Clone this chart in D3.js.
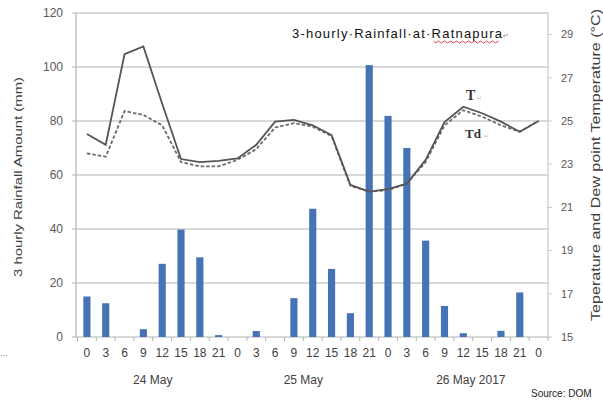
<!DOCTYPE html>
<html><head><meta charset="utf-8">
<script src="https://cdn.jsdelivr.net/npm/d3@7"></script>
<style>
html,body{margin:0;padding:0;background:#fff;overflow:hidden;}
svg{display:block;font-family:"Liberation Sans",Arial,sans-serif;}
</style></head>
<body>
<svg id="c" width="603" height="402"></svg>
<script>
const hours = ["0","3","6","9","12","15","18","21","0","3","6","9","12","15","18","21","0","3","6","9","12","15","18","21","0"];
const rainfall = [15,12.5,0,2.9,27.1,39.8,29.5,0.7,0,2.2,0,14.4,47.5,25.2,8.8,100.7,81.9,70,35.7,11.5,1.4,0,2.3,16.5,0];
const temperature = [24.4,23.9,28.1,28.45,25.8,23.24,23.1,23.15,23.27,23.9,24.97,25.05,24.8,24.35,22.04,21.73,21.85,22.1,23.2,24.95,25.66,25.36,24.97,24.5,25.0];
const dewPoint = [23.5,23.35,25.46,25.28,24.8,23.1,22.9,22.9,23.2,23.7,24.7,24.9,24.74,24.3,22.0,21.73,21.8,22.1,23.1,24.8,25.5,25.2,24.8,24.5,25.0];
const leftTicks = [0,20,40,60,80,100,120];
const rightTicks = [15,17,19,21,23,25,27,29];
const dayLabels = [{label:"24 May",at:3.5},{label:"25 May",at:11.5},{label:"26 May 2017",at:20.4}];

const svg = d3.select("#c");
const L = 76, R = 548, T = 13, B = 337;
const idx = d3.range(hours.length);
const x = d3.scaleBand().domain(idx).range([77.5, R]).paddingInner(0.62).paddingOuter(0.31);
const xc = i => x(i) + x.bandwidth()/2;
const step = x.step();
const yL = d3.scaleLinear().domain([0,120]).range([B,T]);
const yR = d3.scaleLinear().domain([15,30]).range([B,T]);

// gridlines
svg.append("g").selectAll("line").data(leftTicks).join("line")
  .attr("x1", L-4).attr("x2", R).attr("y1", d=>yL(d)).attr("y2", d=>yL(d))
  .attr("stroke","#b3b3b3").attr("stroke-width",1.2);
svg.append("line").attr("x1",L).attr("x2",L).attr("y1",T).attr("y2",B).attr("stroke","#b3b3b3").attr("stroke-width",1.2);
svg.append("line").attr("x1",R).attr("x2",R).attr("y1",T).attr("y2",B).attr("stroke","#c8c8c8").attr("stroke-width",1.2);

// left axis labels
svg.append("g").selectAll("text").data(leftTicks).join("text")
  .attr("x", 63).attr("y", d=>yL(d)).attr("dy","0.35em").attr("text-anchor","end")
  .attr("font-size",12).attr("fill","#595959").text(d=>d);
// right axis ticks & labels
const gr = svg.append("g");
gr.selectAll("line").data(rightTicks).join("line")
  .attr("x1",R).attr("x2",R+4).attr("y1",d=>yR(d)).attr("y2",d=>yR(d)).attr("stroke","#c8c8c8");
gr.selectAll("text").data(rightTicks).join("text")
  .attr("x",561).attr("y",d=>yR(d)).attr("dy","0.35em").attr("font-size",11)
  .attr("fill","#595959").text(d=>d);

// x tick marks between categories
svg.append("g").selectAll("line").data(d3.range(hours.length+1)).join("line")
  .attr("x1", i=>77.5 + i*step).attr("x2", i=>77.5 + i*step)
  .attr("y1",B).attr("y2",B+4).attr("stroke","#b3b3b3");

// bars
svg.append("g").selectAll("rect").data(rainfall).join("rect")
  .attr("x",(d,i)=>x(i)).attr("width",x.bandwidth())
  .attr("y",d=>yL(d)).attr("height",d=>B-yL(d))
  .attr("fill","#4673b5");

// lines
const line = d3.line().x((d,i)=>xc(i)).y(d=>yR(d));
svg.append("path").datum(dewPoint).attr("d",line).attr("fill","none")
  .attr("stroke","#6b6b6b").attr("stroke-width",1.8).attr("stroke-dasharray","3.5,2");
svg.append("path").datum(temperature).attr("d",line).attr("fill","none")
  .attr("stroke","#555555").attr("stroke-width",1.8);

// x labels
svg.append("g").selectAll("text").data(hours).join("text")
  .attr("x",(d,i)=>xc(i)).attr("y",357).attr("text-anchor","middle")
  .attr("font-size",12).attr("fill","#404040").text(d=>d);
svg.append("g").selectAll("text").data(dayLabels).join("text")
  .attr("x",d=>xc(0)+d.at*step).attr("y",384).attr("text-anchor","middle")
  .attr("font-size",12).attr("fill","#404040").text(d=>d.label);

// title
svg.append("text").attr("x",292).attr("y",38).attr("font-size",13)
  .attr("fill","#111").attr("textLength",210).attr("lengthAdjust","spacing")
  .text("3-hourly·Rainfall·at·Ratnapura");
svg.append("text").attr("x",503).attr("y",38).attr("font-size",7).attr("fill","#d08080").text("↵");
(function(){
  let p = "M434,41";
  for (let xx=434; xx<500; xx+=3) p += ` L${xx+1.5},${(xx-434)/3%2===0?43:41}`;
  svg.append("path").attr("d",p).attr("fill","none").attr("stroke","#e03030").attr("stroke-width",0.9);
})();

// series labels
svg.append("text").attr("x",466).attr("y",100).attr("font-family","Liberation Serif,serif")
  .attr("font-weight","bold").attr("font-size",14).attr("fill","#333").text("T");
svg.append("text").attr("x",477).attr("y",100).attr("font-size",6).attr("fill","#bbb").text("↵");
svg.append("text").attr("x",465).attr("y",138).attr("font-family","Liberation Serif,serif")
  .attr("font-weight","bold").attr("font-size",13).attr("fill","#333").text("Td");
svg.append("text").attr("x",484).attr("y",138).attr("font-size",6).attr("fill","#bbb").text("↵");

// axis titles
svg.append("text").attr("transform","translate(22,177) rotate(-90)").attr("text-anchor","middle")
  .attr("font-size",11.5).attr("fill","#404040").attr("textLength",200).attr("lengthAdjust","spacingAndGlyphs")
  .text("3 hourly Rainfall Amount (mm)");
svg.append("text").attr("transform","translate(600,165) rotate(-90)").attr("text-anchor","middle")
  .attr("font-size",12.5).attr("fill","#404040").attr("textLength",312).attr("lengthAdjust","spacingAndGlyphs")
  .text("Teperature and Dew point Temperature (°C)");

// source
svg.append("text").attr("x",531).attr("y",397).attr("font-size",10).attr("fill","#222").text("Source: DOM");
svg.append("text").attr("x",0).attr("y",356).attr("font-size",9).attr("fill","#777").text("...");
</script>
</body></html>
